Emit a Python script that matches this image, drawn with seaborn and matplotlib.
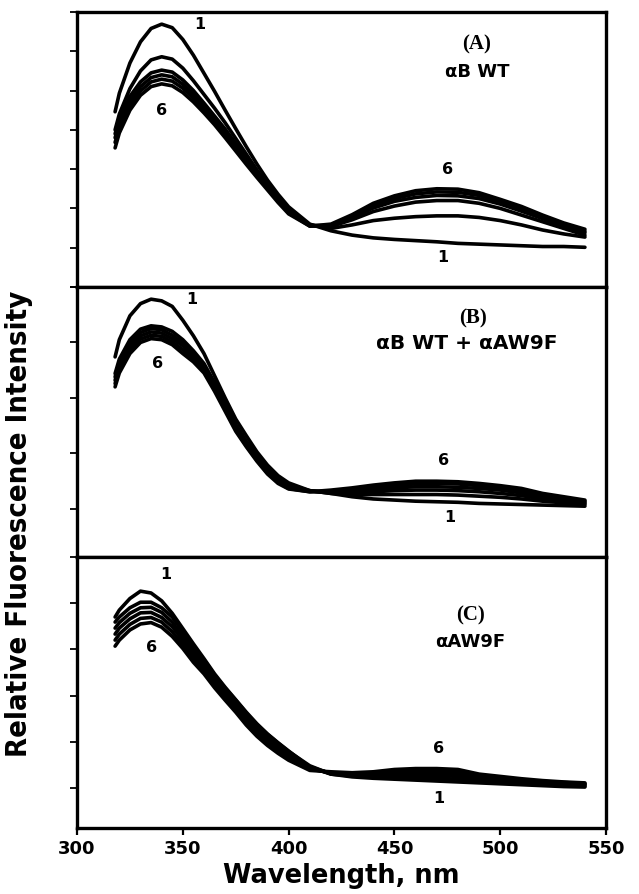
import seaborn as sns
import pandas as pd
import matplotlib.pyplot as plt

# wavelength grid (nm)
wavelength = [318, 320, 325, 330, 335, 340, 345, 350, 355, 360, 365, 370, 375, 380, 385, 390,
              395, 400, 410, 420, 430, 440, 450, 460, 470, 480, 490, 500, 510, 520, 530, 540]

# (A) aB WT, curves 1..6
A1 = [446, 493, 570, 624, 658, 669, 660, 630, 590, 544, 498, 450, 403, 357, 313, 272,
      236, 204, 160, 143, 132, 125, 121, 118, 115, 111, 109, 107, 105, 103, 103, 101]
A2 = [400, 440, 505, 550, 578, 586, 580, 557, 525, 490, 455, 418, 378, 338, 298, 262,
      228, 198, 158, 149, 158, 169, 175, 179, 181, 181, 177, 169, 158, 145, 135, 127]
A3 = [390, 425, 485, 522, 545, 552, 547, 527, 500, 468, 435, 402, 365, 328, 292, 257,
      224, 195, 157, 154, 171, 192, 206, 216, 220, 220, 213, 200, 183, 166, 149, 132]
A4 = [380, 415, 473, 510, 533, 540, 535, 516, 490, 460, 428, 395, 359, 323, 288, 254,
      222, 192, 156, 156, 177, 201, 218, 228, 233, 232, 225, 211, 193, 174, 155, 138]
A5 = [368, 404, 462, 499, 522, 529, 524, 506, 481, 452, 421, 388, 353, 318, 284, 251,
      219, 189, 155, 157, 181, 207, 225, 237, 242, 241, 233, 217, 199, 179, 160, 142]
A6 = [354, 392, 450, 488, 510, 517, 512, 495, 471, 443, 413, 380, 346, 312, 279, 247,
      215, 186, 155, 160, 184, 213, 232, 245, 250, 249, 240, 223, 205, 183, 163, 147]

# (B) aB WT + aAW9F
B1 = [374, 405, 448, 470, 478, 475, 465, 440, 412, 380, 340, 300, 262, 232, 203, 179,
      160, 147, 133, 128, 122, 118, 116, 114, 113, 112, 110, 109, 108, 107, 106, 105]
B2 = [344, 370, 405, 424, 430, 428, 420, 405, 385, 362, 328, 290, 252, 222, 196, 174,
      156, 143, 133, 128, 126, 126, 126, 126, 126, 125, 123, 121, 118, 114, 111, 108]
B3 = [338, 364, 399, 418, 425, 423, 413, 399, 380, 357, 324, 287, 249, 219, 193, 171,
      153, 141, 132, 130, 130, 131, 133, 134, 134, 133, 131, 128, 124, 118, 114, 110]
B4 = [332, 358, 393, 412, 419, 417, 407, 394, 375, 353, 320, 283, 246, 217, 191, 168,
      151, 139, 132, 131, 133, 135, 138, 140, 140, 139, 137, 134, 129, 122, 117, 112]
B5 = [326, 352, 387, 406, 413, 411, 401, 387, 370, 349, 316, 280, 243, 214, 188, 165,
      148, 137, 131, 132, 135, 139, 143, 145, 146, 145, 142, 138, 133, 125, 119, 114]
B6 = [320, 345, 380, 400, 407, 405, 396, 380, 365, 345, 312, 276, 240, 212, 186, 163,
      146, 136, 131, 134, 138, 143, 147, 150, 150, 149, 146, 142, 137, 128, 122, 116]

# (C) aAW9F
C1 = [470, 485, 510, 526, 522, 505, 478, 445, 412, 380, 347, 318, 291, 264, 239, 217,
      198, 180, 145, 130, 124, 121, 119, 117, 115, 113, 111, 109, 107, 105, 103, 102]
C2 = [459, 470, 490, 502, 502, 490, 470, 438, 405, 377, 344, 316, 290, 262, 237, 216,
      197, 179, 148, 130, 126, 124, 123, 122, 121, 119, 116, 113, 111, 108, 106, 104]
C3 = [446, 458, 478, 490, 491, 480, 459, 428, 396, 369, 337, 310, 284, 257, 232, 211,
      192, 175, 146, 131, 128, 128, 128, 127, 127, 125, 120, 116, 113, 110, 108, 106]
C4 = [433, 446, 466, 479, 480, 469, 449, 420, 388, 361, 330, 303, 278, 251, 227, 206,
      188, 171, 143, 132, 130, 131, 133, 132, 132, 130, 124, 119, 116, 113, 110, 108]
C5 = [420, 433, 454, 467, 469, 459, 438, 411, 380, 354, 324, 297, 271, 244, 220, 199,
      182, 166, 141, 133, 131, 133, 137, 137, 137, 135, 127, 122, 118, 114, 112, 109]
C6 = [407, 420, 442, 455, 458, 448, 428, 402, 372, 347, 317, 290, 264, 236, 212, 192,
      175, 160, 138, 135, 133, 135, 140, 142, 142, 140, 130, 125, 120, 116, 113, 111]

panels = [
    ("(A)", "αB WT", [A1, A2, A3, A4, A5, A6]),
    ("(B)", "αB WT + αAW9F", [B1, B2, B3, B4, B5, B6]),
    ("(C)", "αAW9F", [C1, C2, C3, C4, C5, C6]),
]

sns.set_style("ticks")
plt.rcParams['font.family'] = ['DejaVu Sans']
plt.rcParams['text.color'] = 'black'
plt.rcParams['axes.labelcolor'] = 'black'
plt.rcParams['xtick.color'] = 'black'
plt.rcParams['ytick.color'] = 'black'

fig = plt.figure(figsize=(6.39, 8.94), dpi=100)

# axes rectangles (stacked, no gaps)
rects = [(0.1205, 0.679, 0.828, 0.3076),
         (0.1205, 0.377, 0.828, 0.302),
         (0.1205, 0.0738, 0.828, 0.3032)]
ylims = [(0, 700), (13.5, 500), (13.3, 600)]
yticks = [range(0, 701, 100), range(100, 501, 100), range(100, 601, 100)]

# text positions (wavelength, intensity)
title_pos = [((489, 616), (489, 547)), ((487, 444), (484, 399)), ((486, 474), (486, 416))]
name_size = [13, 14.5, 13]
num_pos = [[(358, 669, "1"), (340, 450, "6"), (475, 298, "6"), (473, 74, "1")],
           [(354, 477, "1"), (338, 363, "6"), (473, 188, "6"), (476, 84, "1")],
           [(342, 563, "1"), (335, 405, "6"), (471, 186, "6"), (471, 78, "1")]]

axes = []
for i, (tag, name, curves) in enumerate(panels):
    ax = fig.add_axes(rects[i])
    rows = []
    for k, vals in enumerate(curves):
        for w, v in zip(wavelength, vals):
            rows.append({"wl": w, "val": v, "curve": k + 1})
    df = pd.DataFrame(rows)
    sns.lineplot(data=df, x="wl", y="val", units="curve", estimator=None,
                 color="black", linewidth=2.6, ax=ax, legend=False)

    ax.set_xlim(300, 550)
    ax.set_ylim(*ylims[i])
    ax.set_yticks(list(yticks[i]))
    ax.set_yticklabels([])
    ax.set_xlabel("")
    ax.set_ylabel("")
    for s in ax.spines.values():
        s.set_linewidth(2.4)
        s.set_color("black")
    ax.tick_params(axis="y", direction="out", length=5, width=1.3, color="black")
    ax.tick_params(axis="x", direction="out", length=5, width=1.6, color="black")

    (tx, ty), (nx, ny) = title_pos[i]
    ax.text(tx, ty, tag, ha="center", va="center", fontsize=15, fontweight="bold",
            family=["Liberation Serif", "DejaVu Serif"])
    ax.text(nx, ny, name, ha="center", va="center", fontsize=name_size[i], fontweight="bold")
    for (x, y, s) in num_pos[i]:
        ax.text(x, y, s, ha="center", va="center", fontsize=11.5, fontweight="bold")

    if i < 2:
        ax.tick_params(axis="x", bottom=False, labelbottom=False)
    else:
        ax.set_xticks([300, 350, 400, 450, 500, 550])
        ax.set_xticklabels(["300", "350", "400", "450", "500", "550"],
                           fontsize=13, fontweight="bold")
        ax.set_xlabel("Wavelength, nm", fontsize=18.5, fontweight="bold", labelpad=4)
    axes.append(ax)

fig.text(0.03, 0.414, "Relative Fluorescence Intensity", rotation=90, ha="center", va="center",
         fontsize=21, fontweight="bold", fontstretch="condensed",
         family=["DejaVu Sans", "Liberation Sans"])

fig.savefig("out.png", dpi=100)
